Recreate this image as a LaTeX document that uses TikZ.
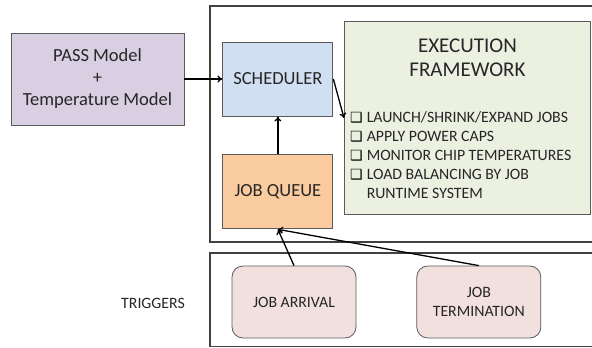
\documentclass[tikz,border=0pt]{standalone}
\usepackage{fontspec}
\setmainfont{Carlito}
\newfontfamily\symfont{DejaVu Sans}
\usepackage{tikz}
\usetikzlibrary{arrows.meta,positioning}
\definecolor{passfill}{RGB}{216,207,226}
\definecolor{schedfill}{RGB}{208,223,241}
\definecolor{queuefill}{RGB}{251,203,160}
\definecolor{execfill}{RGB}{235,240,225}
\definecolor{trigfill}{RGB}{242,224,223}
\definecolor{boxline}{RGB}{90,90,90}
\tikzset{
    block/.style={draw=boxline, line width=0.9pt, align=center, text=black!85,
        font=\fontsize{18.5}{22}\selectfont},
    trigbox/.style={draw=boxline, line width=0.8pt, rounded corners=11pt, fill=trigfill,
        minimum width=124pt, minimum height=72pt, align=center, text=black!85,
        font=\fontsize{15.8}{19}\selectfont},
    flow/.style={-{To[length=5pt,width=7pt]}, line width=1.3pt, black},
    frame/.style={draw=black!75, line width=1.1pt}
}
\newcommand{\chkbox}{{\symfont\fontsize{14}{14}\selectfont\color{black}❑}}

\begin{document}
\begin{tikzpicture}[x=1pt, y=-1pt, node distance=38pt]
    \useasboundingbox (0,0) rectangle (592,348);
    % frames
    \draw[frame] (600,6) -| (210,242) -- (600,242);
    \draw[frame] (600,253) -| (210,346.5) -- (600,346.5);
    % blocks
    \node[block, fill=passfill, minimum width=173pt, minimum height=92pt] (pass) at (97.5,79)
        {PASS Model\\+\\Temperature Model};
    \node[block, fill=schedfill, minimum width=110pt, minimum height=74pt, right=of pass] (sched)
        {SCHEDULER};
    \node[block, fill=queuefill, minimum width=110pt, minimum height=74pt, below=of sched] (queue)
        {JOB QUEUE};
    \node[block, fill=execfill, minimum width=246pt, minimum height=193pt, anchor=north west] (exec)
        at (344,21) {};
    \node[font=\fontsize{21}{24}\selectfont, align=center, text=black!85, below=14pt of exec.north] (exectitle)
        {EXECUTION\\FRAMEWORK};
    \node[anchor=north west, inner sep=0pt, text=black!85, font=\fontsize{15.8}{19}\selectfont] (execlist)
        at (350,109) {\begin{tabular}{@{}l@{\hspace{4pt}}l@{}}
            \chkbox & LAUNCH/SHRINK/EXPAND JOBS\\
            \chkbox & APPLY POWER CAPS\\
            \chkbox & MONITOR CHIP TEMPERATURES\\
            \chkbox & LOAD BALANCING BY JOB\\
                    & RUNTIME SYSTEM
        \end{tabular}};
    % triggers
    \node[text=black!85, font=\fontsize{15.8}{19}\selectfont] (triglabel) at (153,303) {TRIGGERS};
    \node[trigbox] (arrival) at (294,302) {JOB ARRIVAL};
    \node[trigbox, right=60pt of arrival] (termination) {JOB\\TERMINATION};
    % connectors
    \draw[flow] (pass) -- (sched);
    \draw[flow] (sched.east) -- (exec.west);
    \draw[flow] (queue) -- (sched);
    \draw[flow] (arrival.north) -- (queue.south);
    \draw[flow] (termination.north) -- (queue.south);
\end{tikzpicture}
\end{document}
